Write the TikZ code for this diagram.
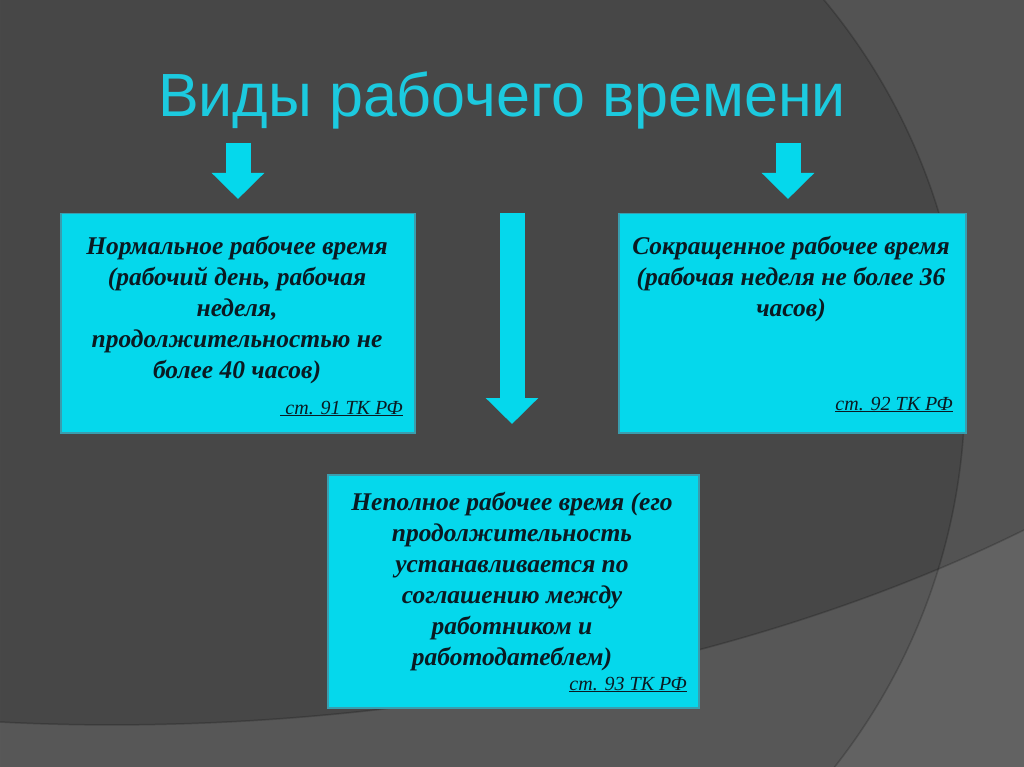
\documentclass[tikz,border=0pt]{standalone}
\usepackage{fontspec}
\setmainfont{Liberation Serif}
\newfontfamily\titlefont{Liberation Sans}
\usetikzlibrary{arrows.meta, positioning}

\definecolor{slide}{HTML}{474747}
\definecolor{boxcyan}{HTML}{05D8EC}
\definecolor{boxedge}{HTML}{3A9DAE}
\definecolor{titlecyan}{HTML}{1CCADF}
\definecolor{inktext}{HTML}{0A1A22}

\begin{document}
\begin{tikzpicture}[x=1pt, y=-1pt,
	headline/.style={text=titlecyan, font=\titlefont\fontsize{61}{64}\selectfont, anchor=base, inner sep=0pt},
	box/.style={draw=boxedge, fill=boxcyan, line width=1.5pt, inner sep=0pt, anchor=north west},
	boxtext/.style={text=inktext, font=\bfseries\itshape\fontsize{25.5}{31}\selectfont, align=center, anchor=base, inner sep=0pt},
	article/.style={text=inktext, font=\itshape\fontsize{20}{22}\selectfont, anchor=base east, inner sep=0pt},
	blockarrow/.style={draw=boxcyan, line width=25pt, -{Triangle[length=26pt, width=51pt]}}]

	\useasboundingbox (0,0) rectangle (1024,767);
	\fill[slide] (0,0) rectangle (1024,767);
	\fill[white, opacity=0.07, even odd rule] (0,0) rectangle (1024,767) (355,390) circle (610pt);
	\fill[white, opacity=0.09] (0,722) .. controls (300,738) and (700,690) .. (1024,530) -- (1024,767) -- (0,767) -- cycle;
	\draw[black, opacity=0.2, line width=1.5pt] (355,390) circle (610pt);
	\draw[black, opacity=0.2, line width=1.5pt] (0,722) .. controls (300,738) and (700,690) .. (1024,530);

	\node[headline] (title) at (502,117) {Виды рабочего времени};

	\node[box, minimum width=354pt, minimum height=219pt] (normal) at (60,213) {};
	\node[box, minimum width=347pt, minimum height=219pt] (short) at (618,213) {};
	\node[box, minimum width=371pt, minimum height=233pt] (part) at (327,474) {};

	% base anchor sits on the last line
	\node[boxtext] (normaltext) at (237,378) {Нормальное рабочее время\\(рабочий день, рабочая\\неделя,\\продолжительностью не\\более 40 часов)};
	\node[boxtext] (shorttext) at (791,316) {Сокращенное рабочее время\\(рабочая неделя не более 36\\часов)};
	\node[boxtext] (parttext) at (512,665) {Неполное рабочее время (его\\продолжительность\\устанавливается по\\соглашению между\\работником и\\работодатеблем)};

	\node[article] (normalref) at (403,414) {\underline{\ ст. 91 ТК РФ}};
	\node[article] (shortref) at (953,410) {\underline{ст. 92 ТК РФ}};
	\node[article] (partref) at (687,690) {\underline{ст. 93 ТК РФ}};

	\coordinate (la) at (238,143);
	\coordinate (lb) at (238,199);
	\coordinate (ra) at (788,143);
	\coordinate (rb) at (788,199);
	\coordinate (ma) at (512,213);
	\coordinate (mb) at (512,424);

	\draw[blockarrow] (la) -- (lb);
	\draw[blockarrow] (ra) -- (rb);
	\draw[blockarrow] (ma) -- (mb);

\end{tikzpicture}
\end{document}
